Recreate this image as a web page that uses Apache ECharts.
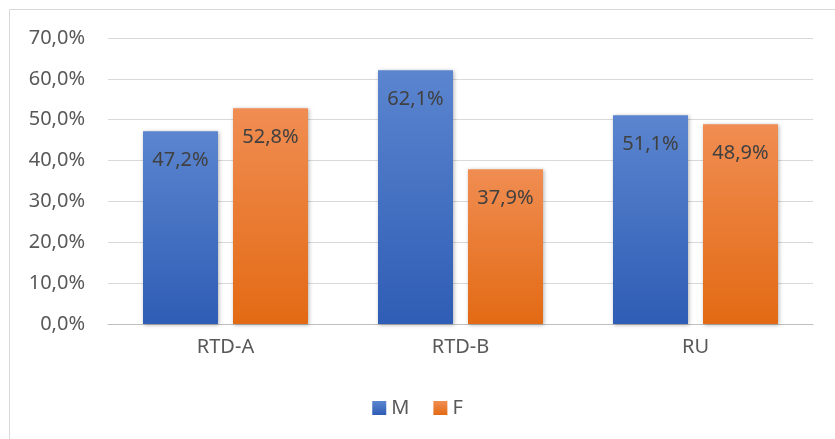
<!DOCTYPE html>
<html><head><meta charset="utf-8">
<script src="https://cdn.jsdelivr.net/npm/echarts@6/dist/echarts.min.js"></script>
<style>html,body{margin:0;padding:0;background:#fff}#c{width:835px;height:439px}</style>
</head><body><div id="c"></div>
<script>
var categories = ['RTD-A', 'RTD-B', 'RU'];
var seriesNames = ['M', 'F'];
var valuesM = [47.2, 62.1, 51.1];
var valuesF = [52.8, 37.9, 48.9];

var FONT = '"Noto Sans", "Open Sans", sans-serif';
function pct(v){ return v.toFixed(1).replace('.', ',') + '%'; }
function grad(top, bottom){
  return new echarts.graphic.LinearGradient(0,0,0,1,[{offset:0,color:top},{offset:1,color:bottom}]);
}
var chart = echarts.init(document.getElementById('c'));
var labelCfg = {show:true, position:'insideTop', distance:19, color:'#404040', fontSize:20, fontFamily:FONT,
  formatter:function(p){return pct(p.value);}};
var shadow = {shadowBlur:4, shadowColor:'rgba(0,0,0,0.3)', shadowOffsetX:1, shadowOffsetY:1};
chart.setOption({
  animation:false,
  graphic:[{type:'rect', shape:{x:9.5,y:9.5,width:900,height:500}, style:{fill:'none', stroke:'#d9d9d9', lineWidth:1}, silent:true}],
  grid:{left:108, right:22, top:38, bottom:115, containLabel:false},
  legend:{data:seriesNames, bottom:16, left:'center', itemWidth:14, itemHeight:14, itemGap:24,
    icon:'rect', textStyle:{color:'#595959', fontSize:20, fontFamily:FONT}},
  xAxis:{type:'category', data:categories,
    axisLine:{lineStyle:{color:'#bfbfbf', width:1}}, axisTick:{show:false},
    axisLabel:{color:'#595959', fontSize:20, fontFamily:FONT, margin:13}},
  yAxis:{type:'value', min:0, max:70, interval:10,
    axisLine:{show:false}, axisTick:{show:false},
    splitLine:{lineStyle:{color:'#d9d9d9', width:1}},
    axisLabel:{color:'#595959', fontSize:20, fontFamily:FONT, margin:23, formatter:function(v){return pct(v);}}},
  series:[
    {name:seriesNames[0], type:'bar', data:valuesM, barWidth:75, barGap:'20%',
      itemStyle:Object.assign({color:grad('#5b85cf','#2f5db5')}, shadow), label:labelCfg},
    {name:seriesNames[1], type:'bar', data:valuesF, barWidth:75, barGap:'20%',
      itemStyle:Object.assign({color:grad('#f08d52','#e36a14')}, shadow), label:labelCfg}
  ]
});
</script></body></html>
